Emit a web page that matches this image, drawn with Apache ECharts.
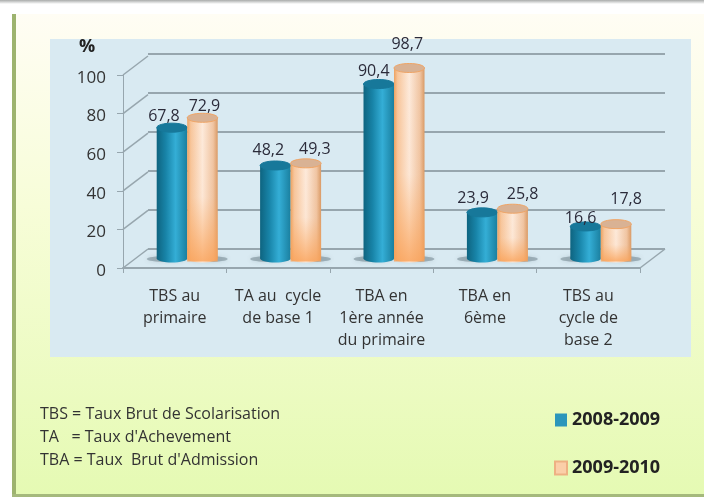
<!DOCTYPE html>
<html>
<head>
<meta charset="utf-8">
<style>
  html, body { margin: 0; padding: 0; background: #fff; }
  #chart { width: 704px; height: 499px; }
</style>
<script src="https://cdn.jsdelivr.net/npm/echarts@6/dist/echarts.min.js"></script>
</head>
<body>
<div id="chart"></div>
<script>
  const categories = ['TBS au\nprimaire', 'TA au  cycle\nde base 1', 'TBA en\n1ère année\ndu primaire', 'TBA en\n6ème', 'TBS au\ncycle de\nbase 2']
  const values2008 = [67.8, 48.2, 90.4, 23.9, 16.6]
  const values2009 = [72.9, 49.3, 98.7, 25.8, 17.8]
  const yTicks = [0, 20, 40, 60, 80, 100]
  const seriesNames = ['2008-2009', '2009-2010']
  const notes = ['TBS = Taux Brut de Scolarisation', 'TA   = Taux d\'Achevement', 'TBA = Taux  Brut d\'Admission']

  // the data labels were placed by hand in the original, so nudge them from the bar top
  const nudge2008 = [[-8, -11], [-7, -15], [-5, -13], [-9, -14], [-5, -8]]
  const nudge2009 = [[2, -11], [9, -14], [-2, -24], [10, -14], [10, -25]]

  const depthX = 25
  const depthY = -19
  const gridColor = '#97a6ae'
  const font = '"Open Sans", sans-serif'

  const chart = echarts.init(document.getElementById('chart'))

  function cylinder (values, nudges, side, body, topFill, topStroke, overlay) {
    return function (params, api) {
      const i = api.value(0)
      const base = api.coord([i, 0])
      const top = api.coord([i, api.value(1)])
      const barW = 30.5
      const cx = base[0] + depthX / 2 + side * barW / 2
      const yBase = base[1] + depthY / 2
      const yTop = top[1] + depthY / 2
      const ry = 4.5
      const children = []
      children.push({
        type: 'ellipse',
        shape: { cx: cx + side * 5, cy: yBase + 0.5, rx: barW / 2 + 5, ry: 3 },
        style: { fill: 'rgba(80,100,110,0.4)', shadowBlur: 5, shadowColor: 'rgba(80,100,110,0.5)' }
      })
      children.push({
        type: 'rect',
        shape: { x: cx - barW / 2, y: yTop, width: barW, height: yBase - yTop },
        style: { fill: body }
      })
      children.push({
        type: 'ellipse',
        shape: { cx: cx, cy: yBase, rx: barW / 2, ry: ry - 0.5 },
        style: { fill: body }
      })
      if (overlay) {
        children.push({
          type: 'rect',
          shape: { x: cx - barW / 2, y: yTop, width: barW, height: yBase - yTop + 3 },
          style: { fill: overlay }
        })
      }
      children.push({
        type: 'ellipse',
        shape: { cx: cx, cy: yTop, rx: barW / 2, ry: ry },
        style: { fill: topFill, stroke: topStroke, lineWidth: 1 }
      })
      children.push({
        type: 'text',
        x: cx + nudges[i][0],
        y: yTop + nudges[i][1],
        style: {
          text: String(api.value(1)).replace('.', ','),
          fill: '#2b2b3a',
          font: '16px ' + font,
          align: 'center',
          verticalAlign: 'middle'
        }
      })
      return { type: 'group', children: children }
    }
  }

  const blueBody = new echarts.graphic.LinearGradient(0, 0, 1, 0, [
    { offset: 0, color: '#0e6480' },
    { offset: 0.3, color: '#1884a8' },
    { offset: 0.62, color: '#34aed6' },
    { offset: 1, color: '#1a7f9f' }
  ])
  const orangeBody = new echarts.graphic.LinearGradient(0, 0, 1, 0, [
    { offset: 0, color: '#eda261' },
    { offset: 0.12, color: '#f7c69c' },
    { offset: 0.5, color: '#fdeadb' },
    { offset: 0.85, color: '#f0c5a3' },
    { offset: 1, color: '#d99a66' }
  ])
  const orangeFade = new echarts.graphic.LinearGradient(0, 0, 0, 1, [
    { offset: 0, color: 'rgba(250,170,100,0)' },
    { offset: 0.55, color: 'rgba(250,170,100,0.05)' },
    { offset: 1, color: 'rgba(250,160,85,0.8)' }
  ])

  chart.setOption({
    animation: false,
    backgroundColor: '#ffffff',
    graphic: [
      // window shadow at the very top
      { type: 'rect', z: -10, shape: { x: 0, y: 0, width: 704, height: 4 }, style: { fill: new echarts.graphic.LinearGradient(0, 0, 0, 1, [{ offset: 0, color: '#a9abaa' }, { offset: 1, color: '#ffffff' }]) } },
      // page panel
      { type: 'rect', z: -10, shape: { x: 12, y: 14, width: 692, height: 481 }, style: { fill: new echarts.graphic.LinearGradient(0, 0, 0, 1, [{ offset: 0, color: '#fffdf4' }, { offset: 0.4, color: '#f7fdd8' }, { offset: 1, color: '#e5fab3' }]) } },
      { type: 'rect', z: -9, shape: { x: 12, y: 14, width: 4, height: 481 }, style: { fill: '#9db36e' } },
      { type: 'rect', z: -9, shape: { x: 12, y: 494, width: 692, height: 3 }, style: { fill: '#a5b97c' } },
      // plot panel
      { type: 'rect', z: -8, shape: { x: 50, y: 39, width: 641, height: 318 }, style: { fill: '#d9eaf2' } },
      { type: 'text', x: 87, y: 47, style: { text: '%', font: 'bold 18px ' + font, fill: '#222', align: 'center', verticalAlign: 'middle' } },
      { type: 'text', x: 40, y: 414, style: { text: notes[0], font: '16px ' + font, fill: '#333', verticalAlign: 'middle' } },
      { type: 'text', x: 40, y: 437, style: { text: notes[1], font: '16px ' + font, fill: '#333', verticalAlign: 'middle' } },
      { type: 'text', x: 40, y: 460, style: { text: notes[2], font: '16px ' + font, fill: '#333', verticalAlign: 'middle' } }
    ],
    legend: {
      orient: 'vertical',
      left: 549,
      top: 406,
      itemWidth: 12,
      itemHeight: 13,
      itemGap: 30,
      icon: 'rect',
      selectedMode: false,
      data: seriesNames,
      textStyle: { fontFamily: font, fontWeight: 'bold', fontSize: 18, color: '#222' }
    },
    grid: [
      { left: 123, right: 64, top: 75, bottom: 231 },
      { left: 148, right: 39, top: 54, bottom: 250 }
    ],
    xAxis: [
      {
        type: 'category',
        gridIndex: 0,
        data: categories,
        axisLine: { lineStyle: { color: gridColor, width: 2 } },
        axisTick: { show: true, length: 5, lineStyle: { color: gridColor, width: 1 } },
        axisLabel: { interval: 0, margin: 17, lineHeight: 22, fontFamily: font, fontSize: 16, color: '#333' }
      },
      { type: 'category', gridIndex: 1, data: categories, show: false }
    ],
    yAxis: [
      {
        type: 'value',
        gridIndex: 0,
        min: 0,
        max: 100,
        interval: 20,
        splitLine: { show: false },
        axisLine: { show: true, lineStyle: { color: gridColor, width: 1 } },
        axisTick: { show: true, length: 6, lineStyle: { color: gridColor } },
        axisLabel: { margin: 17, verticalAlign: 'top', lineHeight: 6, fontFamily: font, fontSize: 17, color: '#333' }
      },
      {
        type: 'value',
        gridIndex: 1,
        min: 0,
        max: 100,
        interval: 20,
        axisLabel: { show: false },
        axisLine: { show: false },
        axisTick: { show: false },
        splitLine: { show: true, lineStyle: { color: gridColor, width: 2 } }
      }
    ],
    series: [
      {
        // side wall and floor edges
        type: 'custom',
        name: 'walls',
        xAxisIndex: 0,
        yAxisIndex: 0,
        silent: true,
        z: 1,
        data: yTicks.map(function (t) { return [0, t] }),
        renderItem: function (params, api) {
          const y = api.coord([0, api.value(1)])[1]
          const x = params.coordSys.x
          const children = [{
            type: 'line',
            shape: { x1: x, y1: y, x2: x + depthX, y2: y + depthY },
            style: { stroke: gridColor, lineWidth: 1.5 }
          }]
          if (api.value(1) === 0) {
            const xr = x + params.coordSys.width
            children.push({
              type: 'line',
              shape: { x1: xr, y1: y, x2: xr + depthX, y2: y + depthY },
              style: { stroke: gridColor, lineWidth: 1.5 }
            })
          }
          return { type: 'group', children: children }
        }
      },
      {
        type: 'custom',
        name: seriesNames[0],
        xAxisIndex: 0,
        yAxisIndex: 0,
        z: 3,
        itemStyle: { color: '#2b96bb' },
        encode: { x: 0, y: 1 },
        data: values2008.map(function (v, i) { return [i, v] }),
        renderItem: cylinder(values2008, nudge2008, -1, blueBody, '#17789a', '#17789a')
      },
      {
        type: 'custom',
        name: seriesNames[1],
        xAxisIndex: 0,
        yAxisIndex: 0,
        z: 4,
        itemStyle: { color: '#fbcfa8', borderColor: '#eeb183', borderWidth: 1 },
        encode: { x: 0, y: 1 },
        data: values2009.map(function (v, i) { return [i, v] }),
        renderItem: cylinder(values2009, nudge2009, 1, orangeBody, '#d9b294', '#f0a566', orangeFade)
      },
      {
        // carries the back wall grid
        type: 'line',
        name: 'back',
        xAxisIndex: 1,
        yAxisIndex: 1,
        data: [],
        silent: true
      }
    ]
  })
</script>
</body>
</html>
